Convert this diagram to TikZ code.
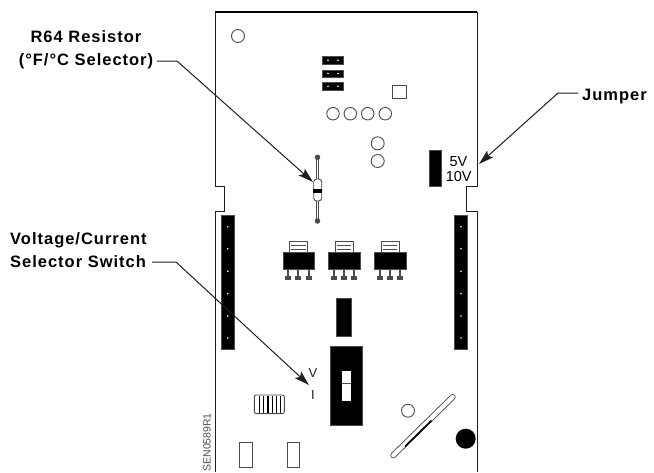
\documentclass[tikz,border=0pt]{standalone}
\usepackage{fontspec}
\setmainfont{Liberation Sans}
\newfontfamily\calloutfont[LetterSpace=6]{Liberation Sans}
\usetikzlibrary{arrows.meta}
\definecolor{ink}{gray}{0.12}
\definecolor{edge}{gray}{0.3}
\tikzset{
 x=1pt,y=-1pt,
 board/.style={draw=ink,line width=1pt},
 hole/.style={circle,draw=edge,line width=0.9pt,inner sep=0pt,minimum size=#1pt},
 solid block/.style={fill=black,draw=edge,line width=0.3pt,inner sep=0pt},
 outline/.style={draw=edge,line width=0.9pt,inner sep=0pt,fill=white},
 pin/.style={circle,fill=white,inner sep=0pt,minimum size=1.8pt},
 callout/.style={font=\calloutfont\bfseries\fontsize{16.5}{23}\selectfont,align=center,text=black,inner sep=0pt},
 marking/.style={font=\fontsize{14.5}{17}\selectfont,text=black,inner sep=0pt},
 smallmark/.style={font=\fontsize{13}{15}\selectfont,text=ink,inner sep=0pt},
 leader/.style={draw=ink,line width=1pt,-{Stealth[length=15pt,width=9pt,inset=3pt]}},
}
\newcommand{\regulator}[2]{%
 \node[outline,line width=1pt,minimum width=18pt,minimum height=11pt] (tab#2) at (#1+298.3,246.8) {};
 \draw[edge,line width=1.4pt] (#1+291,245.5) -- (#1+305.5,245.5) (#1+291,249.5) -- (#1+305.5,249.5);
 \foreach \p in {-10.3,0,10.3}{
  \draw[edge,line width=2pt] (#1+298.3+\p,269) -- (#1+298.3+\p,277);
  \fill[edge] (#1+298.3+\p-3,276) rectangle (#1+298.3+\p+3,279.5);
 }
 \node[solid block,minimum width=31.6pt,minimum height=17.4pt] (reg#2) at (#1+298.5,260.6) {};
}
\begin{document}
\begin{tikzpicture}
\useasboundingbox (0,0) rectangle (654,472);
\fill[white] (0,0) rectangle (654,472);
% board outline
\draw[board] (215,472) -- (215,211) -- (224,211) -- (224,186) -- (215,186) -- (215,12) -- (477,12) -- (477,186) -- (466,186) -- (466,211) -- (477,211) -- (477,472);
\draw[black,line width=1.4pt] (215,12) -- (477,12);
% holes
\node[hole=13] (h1) at (238,36) {};
\foreach \n/\xx in {a/333,b/350.3,c/367.7,d/385.3}{\node[hole=12.5] (row\n) at (\xx,113.7) {};}
\node[hole=13] (h2) at (377.7,143.3) {};
\node[hole=13] (h3) at (377.7,161) {};
\node[hole=13] (h4) at (408,410.7) {};
% headers
\foreach \n/\yy in {a/60.3,b/73.5,c/86.3}{
 \node[solid block,minimum width=21.4pt,minimum height=7.4pt] (hdr\n) at (332.4,\yy) {};
 \node[pin] (hdr\n l) at (328,\yy) {};
 \node[pin] (hdr\n r) at (338,\yy) {};
}
\node[outline,minimum width=14pt,minimum height=13.6pt] (sq) at (399.7,91.9) {};
% resistor
\node[circle,fill=edge,inner sep=0pt,minimum size=5.5pt] (rt) at (317.5,157.3) {};
\node[circle,fill=edge,inner sep=0pt,minimum size=5.5pt] (rb) at (317.5,221) {};
\draw[edge,line width=1.1pt] (316.2,157.3) -- (316.2,221) (318.8,157.3) -- (318.8,221);
\node[draw=edge,fill=white,line width=0.9pt,rounded corners=3pt,minimum width=8pt,minimum height=22pt,inner sep=0pt] (res) at (317.7,190) {};
\fill[black] (res.west |- 0,188.7) rectangle (res.east |- 0,192.7);
% jumper block
\node[solid block,minimum width=12.6pt,minimum height=35.7pt] (jmp) at (435,167.8) {};
\node[marking] (five) at (458.5,161.7) {5V};
\node[marking] (ten) at (458.7,176.7) {10V};
% strips
\foreach \n/\xx in {l/227.8,r/461}{
 \node[solid block,minimum width=12.8pt,minimum height=133.7pt] (strip\n) at (\xx,281.9) {};
 \foreach \yy in {226.7,248.7,271.3,293.7,316,338}{\node[pin] at (\xx,\yy) {};}
}
% regulators
\regulator{0}{a}
\regulator{45.7}{b}
\regulator{91.7}{c}
% blocks
\node[solid block,minimum width=15pt,minimum height=38.6pt] (mid) at (343.5,317) {};
\node[solid block,minimum width=32.3pt,minimum height=79pt] (sw) at (346.2,385.8) {};
\node[fill=white,inner sep=0pt,minimum width=9pt,minimum height=30pt] (win) at (346.2,386.3) {};
\draw[edge,line width=0.9pt] (win.west |- 0,383.7) -- (win.east |- 0,383.7);
\node[smallmark] (vv) at (313,373) {V};
\node[smallmark] (ii) at (313,395.3) {I};
% ribbon connector
\node[outline,rounded corners=2pt,minimum width=30pt,minimum height=18.7pt] (rib) at (269.3,404.3) {};
\foreach \xx in {259.5,263.8,268,272.3,276.5,280.5}{\draw[black,line width=1.3pt] (\xx,395.5) -- (\xx,413.3);}
% small rectangles
\node[outline,minimum width=12.6pt,minimum height=25pt] (sa) at (246,454.8) {};
\node[outline,minimum width=12.4pt,minimum height=25pt] (sb) at (293.5,454.8) {};
% slot
\draw[edge,line width=6pt,line cap=round] (393.3,455.3) -- (452.7,397);
\draw[white,line width=4.2pt,line cap=round] (393.3,455.3) -- (452.7,397);
\draw[black,line width=1.6pt] (405,446.5) -- (431.5,420.5);
% knob
\node[circle,fill=black,inner sep=0pt,minimum size=20pt] (knob) at (465.7,438.7) {};
% serial
\node[rotate=90,anchor=east,inner sep=0pt,text=edge,font=\fontsize{10.5}{12}\selectfont] (sn) at (207,413) {SEN0589R1};
% callouts
\node[callout,anchor=center] (lr) at (86,50) {R64 Resistor\\(°F/°C Selector)};
\node[callout,anchor=west] (lj) at (582,97) {Jumper};
\node[callout,align=left,anchor=west] (lv) at (10,250) {Voltage/Current\\Selector Switch};
\coordinate (sr) at (157,61);
\coordinate (kr) at (177,61);
\coordinate (er) at (313,182);
\coordinate (sj) at (578,93);
\coordinate (kj) at (558,93);
\coordinate (ej) at (479,164);
\coordinate (sv) at (152,262);
\coordinate (kv) at (176,262);
\coordinate (ev) at (309,385);
\draw[leader] (sr) -- (kr) -- (er);
\draw[leader] (sj) -- (kj) -- (ej);
\draw[leader] (sv) -- (kv) -- (ev);
\end{tikzpicture}
\end{document}
